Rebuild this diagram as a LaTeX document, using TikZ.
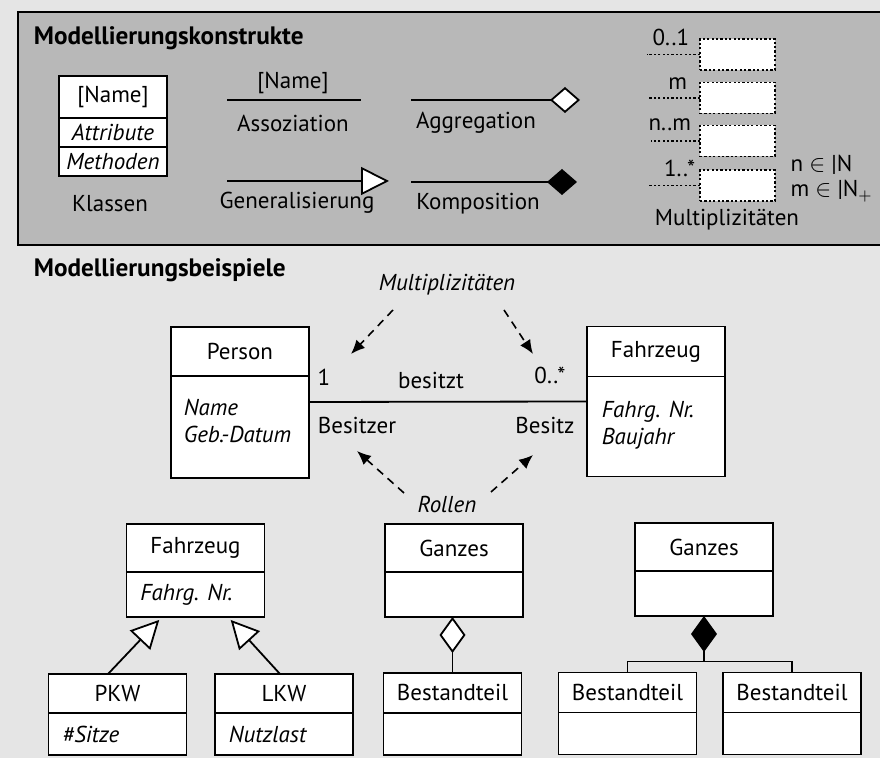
\documentclass[tikz,border=0pt]{standalone}
\usepackage{fontspec}
\setmainfont{PT Sans}
\usetikzlibrary{arrows.meta,positioning,calc}

\definecolor{pagebg}{gray}{0.9}
\definecolor{panelbg}{gray}{0.72}
\newcommand\basefont{\fontsize{11.5}{13.5}\selectfont}
\newcommand\headfont{\fontsize{12.6}{15}\selectfont}

\begin{document}
\begin{tikzpicture}[
    x=0.5pt, y=-0.5pt,
    font=\basefont,
    line width=0.9pt,
    heading/.style={font=\headfont\bfseries, anchor=west, inner sep=0pt},
    clshead/.style={draw, fill=white, outer sep=0pt, inner sep=0pt,
      minimum width=69pt, minimum height=24pt},
    clsbody/.style={clshead, minimum height=22.5pt, below=0pt of #1},
    attr/.style={font=\basefont\itshape, anchor=west, inner sep=0pt, align=left},
    mbox/.style={draw, fill=white, line width=0.8pt, dash pattern=on 1.1pt off 1.1pt,
      minimum width=37.5pt, minimum height=15.5pt, inner sep=0pt, outer sep=0pt},
    mline/.style={line width=0.8pt, dash pattern=on 1.1pt off 1.1pt},
    mlabel/.style={anchor=south east, inner sep=0pt},
    hint/.style={line width=0.8pt, dash pattern=on 4pt off 3pt,
      -{Latex[length=7pt,width=6pt]}},
    inherit/.style={-{Triangle[length=14pt,width=14pt,fill=white]}},
    aggr/.style={-{Diamond[length=#1,width=13pt,fill=white]}},
    compo/.style={-{Diamond[length=#1,width=13pt]}}
  ]

  \useasboundingbox (0,0) rectangle (880,758);
  \fill[pagebg] (0,0) rectangle (880,758);

  % panel with the constructs
  \fill[panelbg] (18,12) rectangle (880,245);
  \draw (880,12) -- (18,12) -- (18,245) -- (880,245);
  \node[heading] (hKon) at (33,38) {Modellierungskonstrukte};

  % class
  \node[clshead, minimum width=54pt, minimum height=21pt] (kName) at (113,97) {[Name]};
  \node[clsbody=kName, minimum width=54pt, minimum height=14.5pt, font=\basefont\itshape] (kAttr) {Attribute};
  \node[clsbody=kAttr, minimum width=54pt, minimum height=14.5pt, font=\basefont\itshape] (kMeth) {Methoden};
  \node (kLbl) at (110,204) {Klassen};

  % association and generalisation
  \coordinate (assL) at (227,100);
  \coordinate (assR) at (361,100);
  \draw (assL) -- (assR);
  \node (assName) at (293,83) {[Name]};
  \node (assLbl) at (293,123) {Assoziation};

  \coordinate (genL) at (227,181);
  \coordinate (genR) at (389,181);
  \draw[inherit] (genL) -- (genR);
  \node (genLbl) at (297,203) {Generalisierung};

  % aggregation and composition
  \coordinate (aggL) at (411,100);
  \coordinate (aggR) at (580,100);
  \draw[aggr=15pt] (aggL) -- (aggR);
  \node (aggLbl) at (476,123) {Aggregation};

  \coordinate (komL) at (411,182);
  \coordinate (komR) at (577,182);
  \draw[compo=15pt] (komL) -- (komR);
  \node (komLbl) at (478,204) {Komposition};

  % multiplicities
  \node[mbox] (mb1) at (737.5,54.5) {};
  \node[mbox] (mb2) at (737.5,98) {};
  \node[mbox] (mb3) at (737.5,141) {};
  \node[mbox] (mb4) at (737.5,185.5) {};
  \draw[mline] (mb1.west) -- ++(-53,0);
  \draw[mline] (mb2.west) -- ++(-51,0);
  \draw[mline] (mb3.west) -- ++(-49,0);
  \draw[mline] (mb4.west) -- ++(-52,0);
  \node[mlabel] (ml1) at ([shift={(-10,-8)}]mb1.west) {0..1};
  \node[mlabel] (ml2) at ([shift={(-12,-8)}]mb2.west) {m};
  \node[mlabel] (ml3) at ([shift={(-8,-9)}]mb3.west) {n..m};
  \node[mlabel] (ml4) at ([shift={(-4,-8)}]mb4.west) {1..*};
  \node[anchor=west] (nSet) at (783,165) {n $\in$ |N};
  \node[anchor=west] (mSet) at (783,191) {m $\in$ |N$_{+}$};
  \node (mLbl) at (727,220) {Multiplizitäten};

  % examples
  \node[heading] (hBsp) at (33,270) {Modellierungsbeispiele};

  % Person -- Fahrzeug
  \node[clshead, minimum height=24.5pt] (personT) at (240,351.5) {Person};
  \node[clsbody=personT, minimum height=51pt] (personB) {};
  \node[attr, anchor=north west] (personA) at ([shift={(12,22)}]personB.north west) {Name\\Geb.-Datum};

  \node[clshead, minimum height=25pt] (fzgT) at (656,351.5) {Fahrzeug};
  \node[clsbody=fzgT, minimum height=50pt] (fzgB) {};
  \node[attr, anchor=north west] (fzgA) at ([shift={(14,24)}]fzgB.north west) {Fahrg. Nr.\\Baujahr};

  \draw ([yshift=12.5pt]personB.east) -- ([yshift=12.5pt]fzgB.west);
  \node (one) at (324,377) {1};
  \node (besitzt) at (431,381) {besitzt};
  \node (many) at (550,375) {0..*};
  \node (owner) at (357,426) {Besitzer};
  \node (owned) at (545,426) {Besitz};

  \node[font=\basefont\itshape] (multi) at (447,285) {Multiplizitäten};
  \node[font=\basefont\itshape] (rollen) at (447,505) {Rollen};
  \coordinate (oneTip) at (351,354);
  \coordinate (manyTip) at (533,354);
  \coordinate (ownerTip) at (357,451);
  \coordinate (ownedTip) at (533,455);
  \draw[hint] ([shift={(-54,25)}]multi.center) -- (oneTip);
  \draw[hint] ([shift={(57,25)}]multi.center) -- (manyTip);
  \draw[hint] ([shift={(-43,-12)}]rollen.center) -- (ownerTip);
  \draw[hint] ([shift={(44,-13)}]rollen.center) -- (ownedTip);

  % generalisation example
  \node[clshead] (fzg2T) at (195.5,548) {Fahrzeug};
  \node[clsbody=fzg2T] (fzg2B) {};
  \node[attr] (fzg2A) at ([xshift=6.5pt]fzg2B.west) {Fahrg. Nr.};

  \node[clshead, minimum height=19.5pt] (pkwT) at (117.5,693.5) {PKW};
  \node[clsbody=pkwT, minimum height=21pt] (pkwB) {};
  \node[attr] (pkwA) at ([xshift=6.5pt]pkwB.west) {\#Sitze};

  \node[clshead, minimum height=19.5pt] (lkwT) at (284,693.5) {LKW};
  \node[clsbody=lkwT, minimum height=21pt] (lkwB) {};
  \node[attr] (lkwA) at ([xshift=6.5pt]lkwB.west) {Nutzlast};

  \draw[inherit, shorten >=2pt] ([xshift=-4.75pt]pkwT.north) -- ([xshift=-16.75pt]fzg2B.south);
  \draw[inherit, shorten >=2pt] ([xshift=-2pt]lkwT.north) -- ([xshift=16.25pt]fzg2B.south);

  % aggregation example
  \node[clshead] (g1T) at (454,548) {Ganzes};
  \node[clsbody=g1T] (g1B) {};
  \node[clshead, minimum height=20pt] (b1T) at (452.5,693) {Bestandteil};
  \node[clsbody=b1T, minimum height=21pt] (b1B) {};
  \draw[aggr=18pt] (b1T.north) -- (b1T.north |- g1B.south);

  % composition example
  \node[clshead] (g2T) at (704,547) {Ganzes};
  \node[clsbody=g2T] (g2B) {};
  \node[clshead, minimum height=20pt] (b2T) at (627.5,692.5) {Bestandteil};
  \node[clsbody=b2T, minimum height=21pt] (b2B) {};
  \node[clshead, minimum height=20pt] (b3T) at (792,692.5) {Bestandteil};
  \node[clsbody=b3T, minimum height=21pt] (b3B) {};
  \coordinate (jn) at ([yshift=5.5pt]g2B.south |- b2T.north);
  \draw[compo=18pt] (jn) -- (g2B.south);
  \draw (b2T.north) |- (jn) -| (b3T.north);

\end{tikzpicture}
\end{document}
